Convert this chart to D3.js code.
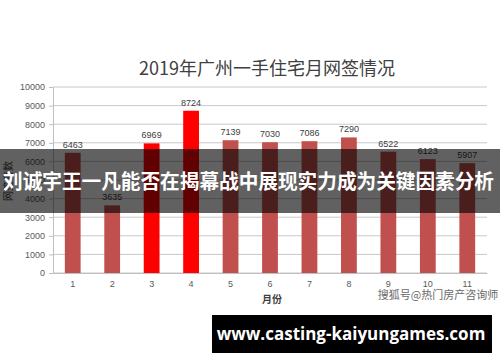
<!DOCTYPE html>
<html>
<head>
<meta charset="utf-8">
<script src="https://cdn.jsdelivr.net/npm/d3@7"></script>
<style>
  body { margin: 0; background: #fff; }
  svg { display: block; }
</style>
</head>
<body>
<svg id="chart" width="500" height="362"></svg>
<script>
const months = ["1", "2", "3", "4", "5", "6", "7", "8", "9", "10", "11"];
const sales = [6463, 3635, 6969, 8724, 7139, 7030, 7086, 7290, 6522, 6123, 5907];
const highlight = ["3", "4"];
const yTicks = [0, 1000, 2000, 3000, 4000, 5000, 6000, 7000, 8000, 9000, 10000];

const svg = d3.select("#chart");
const cjk = "'Noto Sans CJK SC', sans-serif";

const x = d3.scaleBand().domain(months).range([53, 487]).paddingInner(0.6).paddingOuter(0.3);
const y = d3.scaleLinear().domain([0, 10000]).range([273, 87]);

// title
svg.append("text")
    .attr("x", 267).attr("y", 75)
    .attr("text-anchor", "middle")
    .attr("font-family", cjk)
    .attr("font-size", 18)
    .attr("fill", "#404040")
    .text("2019年广州一手住宅月网签情况");

// grid
svg.append("g").selectAll("line")
    .data(yTicks)
    .join("line")
    .attr("x1", 53).attr("x2", 487)
    .attr("y1", d => y(d)).attr("y2", d => y(d))
    .attr("stroke", "#c8c8c8").attr("stroke-width", 1);

// y axis
const yAxis = svg.append("g")
    .attr("transform", "translate(53,0)")
    .call(d3.axisLeft(y).tickValues(yTicks).tickSize(4).tickPadding(4).tickFormat(d3.format("d")));
yAxis.select(".domain").attr("stroke", "#bfbfbf");
yAxis.selectAll(".tick line").attr("stroke", "#bfbfbf");
yAxis.selectAll("text")
    .attr("font-family", "'Liberation Sans', sans-serif")
    .attr("font-size", 9).attr("fill", "#595959");

// x axis labels
const xAxis = svg.append("g")
    .attr("transform", "translate(0,273)")
    .call(d3.axisBottom(x).tickSize(0).tickPadding(8));
xAxis.select(".domain").attr("stroke", "#bfbfbf");
xAxis.selectAll("text")
    .attr("font-family", "'Liberation Sans', sans-serif")
    .attr("font-size", 9).attr("fill", "#595959");

// bars
svg.append("g").selectAll("rect")
    .data(months)
    .join("rect")
    .attr("x", d => x(d))
    .attr("width", x.bandwidth())
    .attr("y", (d, i) => y(sales[i]))
    .attr("height", (d, i) => y(0) - y(sales[i]))
    .attr("fill", d => highlight.includes(d) ? "#ff0000" : "#c0504d");

// value labels
svg.append("g").selectAll("text")
    .data(months)
    .join("text")
    .attr("x", d => x(d) + x.bandwidth() / 2)
    .attr("y", (d, i) => y(sales[i]) - 5)
    .attr("text-anchor", "middle")
    .attr("font-family", "'Liberation Sans', sans-serif")
    .attr("font-size", 9)
    .attr("fill", "#404040")
    .text((d, i) => sales[i]);

// axis titles
svg.append("text")
    .attr("transform", "translate(12,181) rotate(-90)")
    .attr("text-anchor", "middle")
    .attr("font-family", cjk)
    .attr("font-size", 10)
    .attr("fill", "#404040")
    .text("网签套数");

svg.append("text")
    .attr("x", 272).attr("y", 303)
    .attr("text-anchor", "middle")
    .attr("font-family", cjk)
    .attr("font-size", 10)
    .attr("font-weight", "bold")
    .attr("fill", "#404040")
    .text("月份");

// source watermark
svg.append("text")
    .attr("x", 438).attr("y", 299)
    .attr("text-anchor", "middle")
    .attr("font-family", cjk)
    .attr("font-size", 11)
    .attr("fill", "#6a6a6a")
    .text("搜狐号@热门房产咨询师");

// overlay banner
svg.append("rect")
    .attr("x", 0).attr("y", 149)
    .attr("width", 500).attr("height", 64)
    .attr("fill", "#000").attr("fill-opacity", 0.62);

svg.append("text")
    .attr("x", 3).attr("y", 189)
    .attr("font-family", cjk)
    .attr("font-size", 20)
    .attr("font-weight", "bold")
    .attr("fill", "#fff")
    .attr("textLength", 491)
    .attr("lengthAdjust", "spacingAndGlyphs")
    .text("刘诚宇王一凡能否在揭幕战中展现实力成为关键因素分析");

// bottom url box
svg.append("rect")
    .attr("x", 212).attr("y", 315)
    .attr("width", 280).attr("height", 38)
    .attr("fill", "#000");

svg.append("text")
    .attr("x", 351).attr("y", 340)
    .attr("text-anchor", "middle")
    .attr("font-family", "'Open Sans', sans-serif")
    .attr("font-size", 17)
    .attr("font-weight", "bold")
    .attr("fill", "#fff")
    .text("www.casting-kaiyungames.com");
</script>
</body>
</html>
